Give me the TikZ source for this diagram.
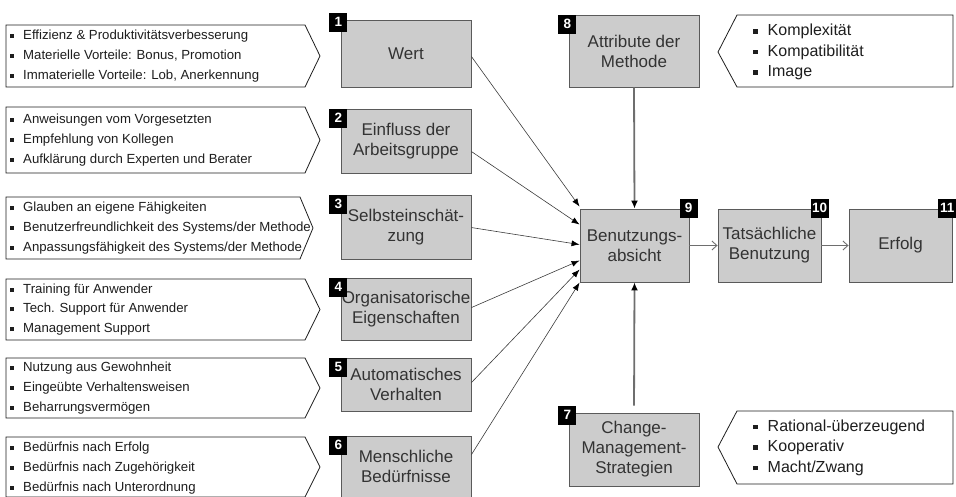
\documentclass[tikz,border=0pt]{standalone}
\usepackage{fontspec}
\setmainfont{Liberation Sans}
\usepackage{tikz}
\usetikzlibrary{arrows.meta,calc}
\definecolor{INK}{HTML}{1E1E1E}
\definecolor{TXT}{HTML}{333333}
\definecolor{BOXF}{HTML}{CCCCCC}
\definecolor{EDGE}{HTML}{5A5A5A}
\definecolor{LINE}{HTML}{3C3C3C}
\definecolor{GREY}{HTML}{6E6E6E}
\newcommand{\bsq}{\rule[1.6pt]{4pt}{4pt}\hspace{9pt}}
\newcommand{\rsq}{\rule[2pt]{4.5pt}{4.5pt}\hspace{10pt}}

\begin{document}
\begin{tikzpicture}[x=1pt,y=-1pt]
\tikzset{box/.style={draw=EDGE,fill=BOXF,line width=0.9pt,inner sep=0pt,align=center,text=TXT,font=\fontsize{17}{20}\selectfont},
 badge/.style={fill=black,text=white,inner sep=0pt,minimum width=18,minimum height=19,font=\bfseries\fontsize{13.5}{14}\selectfont},
 callout/.style={draw=INK,line width=0.8pt,fill=white},
 llist/.style={anchor=west,inner sep=0pt,align=left,text=INK,font=\fontsize{13.2}{19.8}\selectfont},
 rlist/.style={anchor=west,inner sep=0pt,align=left,text=INK,font=\fontsize{16}{20.5}\selectfont},
 conn/.style={draw=LINE,line width=0.6pt,-{Latex[length=8pt,width=6pt,color=black]}},
 thk/.style={draw=GREY,line width=1.8pt,-{Latex[length=8pt,width=7pt,color=black]}},
 nxt/.style={draw=GREY,line width=0.9pt,-{Straight Barb[length=5pt,width=9pt]}}}
\useasboundingbox (0,0) rectangle (956,496);
\clip (0,0) rectangle (956,496);
\draw[callout] (6,25)--(305,25)--(320,56)--(305,87)--(6,87)--cycle;
\draw[callout] (6,107)--(305,107)--(320,140)--(305,173)--(6,173)--cycle;
\draw[callout] (6,197)--(300,197)--(313,228)--(300,259)--(6,259)--cycle;
\draw[callout] (6,279)--(305,279)--(320,309.5)--(305,340)--(6,340)--cycle;
\draw[callout] (6,358)--(305,358)--(320,388)--(305,418)--(6,418)--cycle;
\draw[callout] (6,437)--(305,437)--(320,467)--(305,497)--(6,497)--cycle;
\draw[callout] (737,15)--(953,15)--(953,87)--(737,87)--(718,52)--cycle;
\draw[callout] (737,411)--(953,411)--(953,484)--(737,484)--(718,447)--cycle;
\node[llist] (l1) at (10,56) {\bsq Effizienz \& Produktivitätsverbesserung\\\bsq Materielle Vorteile: Bonus, Promotion\\\bsq Immaterielle Vorteile: Lob, Anerkennung};
\node[llist] (l2) at (10,140) {\bsq Anweisungen vom Vorgesetzten\\\bsq Empfehlung von Kollegen\\\bsq Aufklärung durch Experten und Berater};
\node[llist] (l3) at (10,228) {\bsq Glauben an eigene Fähigkeiten\\\bsq Benutzerfreundlichkeit des Systems/der Methode\\\bsq Anpassungsfähigkeit des Systems/der Methode};
\node[llist] (l4) at (10,309.5) {\bsq Training für Anwender\\\bsq Tech. Support für Anwender\\\bsq Management Support};
\node[llist] (l5) at (10,388) {\bsq Nutzung aus Gewohnheit\\\bsq Eingeübte Verhaltensweisen\\\bsq Beharrungsvermögen};
\node[llist] (l6) at (10,468) {\bsq Bedürfnis nach Erfolg\\\bsq Bedürfnis nach Zugehörigkeit\\\bsq Bedürfnis nach Unterordnung};
\node[rlist] (l8) at (753,52) {\rsq Komplexität\\\rsq Kompatibilität\\\rsq Image};
\node[rlist] (l7) at (753,447.5) {\rsq Rational-überzeugend\\\rsq Kooperativ\\\rsq Macht/Zwang};
\node[box,minimum width=130,minimum height=67] (b1) at (406,53.5) {Wert};
\node[box,minimum width=130,minimum height=64] (b2) at (406,141) {Einfluss der\\Arbeitsgruppe};
\node[box,minimum width=130,minimum height=64] (b3) at (406,227) {Selbsteinschät-\\zung};
\node[box,minimum width=130,minimum height=62] (b4) at (406,309) {Organisatorische\\Eigenschaften};
\node[box,minimum width=130,minimum height=53] (b5) at (406,384.5) {Automatisches\\Verhalten};
\node[box,minimum width=130,minimum height=61] (b6) at (406,466.5) {Menschliche\\Bedürfnisse};
\node[box,minimum width=130,minimum height=72] (b8) at (634,51) {Attribute der\\Methode};
\node[box,minimum width=109,minimum height=73] (b9) at (634.5,245.5) {Benutzungs-\\absicht};
\node[box,minimum width=103,minimum height=73] (b10) at (769.5,245.5) {Tatsächliche\\Benutzung};
\node[box,minimum width=103,minimum height=73] (b11) at (900.5,245.5) {Erfolg};
\node[box,minimum width=130,minimum height=73] (b7) at (634,449.5) {Change-\\Management-\\Strategien};
\node[badge,anchor=north east] (n1) at ($(b1.north west)+(7,-7)$) {1};
\node[badge,anchor=north east] (n2) at ($(b2.north west)+(7,0)$) {2};
\node[badge,anchor=north east] (n3) at ($(b3.north west)+(7,0)$) {3};
\node[badge,anchor=north east] (n4) at ($(b4.north west)+(7,0)$) {4};
\node[badge,anchor=north east] (n5) at ($(b5.north west)+(7,0)$) {5};
\node[badge,anchor=north east] (n6) at ($(b6.north west)+(7,0)$) {6};
\node[badge,anchor=north east] (n7) at ($(b7.north west)+(8,-7)$) {7};
\node[badge,anchor=north east] (n8) at ($(b8.north west)+(8,0)$) {8};
\node[badge,anchor=north west] (n9) at ($(b9.north east)+(-10,-10)$) {9};
\node[badge,anchor=north west] (n10) at ($(b10.north east)+(-11,-10)$) {10};
\node[badge,anchor=north east] (n11) at ($(b11.north east)+(4,-10)$) {11};
\draw[conn] ($(b1.north east)+(0,37)$) -- ($(b9.north west)+(0,-2)$);
\draw[conn] ($(b2.north east)+(0,43)$) -- ($(b9.north west)+(0,16)$);
\draw[conn] ($(b3.north east)+(0,33)$) -- ($(b9.north west)+(0,36)$);
\draw[conn] ($(b4.north east)+(0,30)$) -- ($(b9.north west)+(0,52)$);
\draw[conn] ($(b5.north east)+(0,25)$) -- ($(b9.north west)+(0,61)$);
\draw[conn] ($(b6.north east)+(0,19)$) -- ($(b9.north west)+(0,74)$);
\draw[thk] (b8.south) -- (b9.north);
\draw[thk,shorten <=7pt] (b7.north) -- (b9.south);
\draw[nxt] (b9.east) -- (b10.west);
\draw[nxt] (b10.east) -- (b11.west);
\end{tikzpicture}
\end{document}
